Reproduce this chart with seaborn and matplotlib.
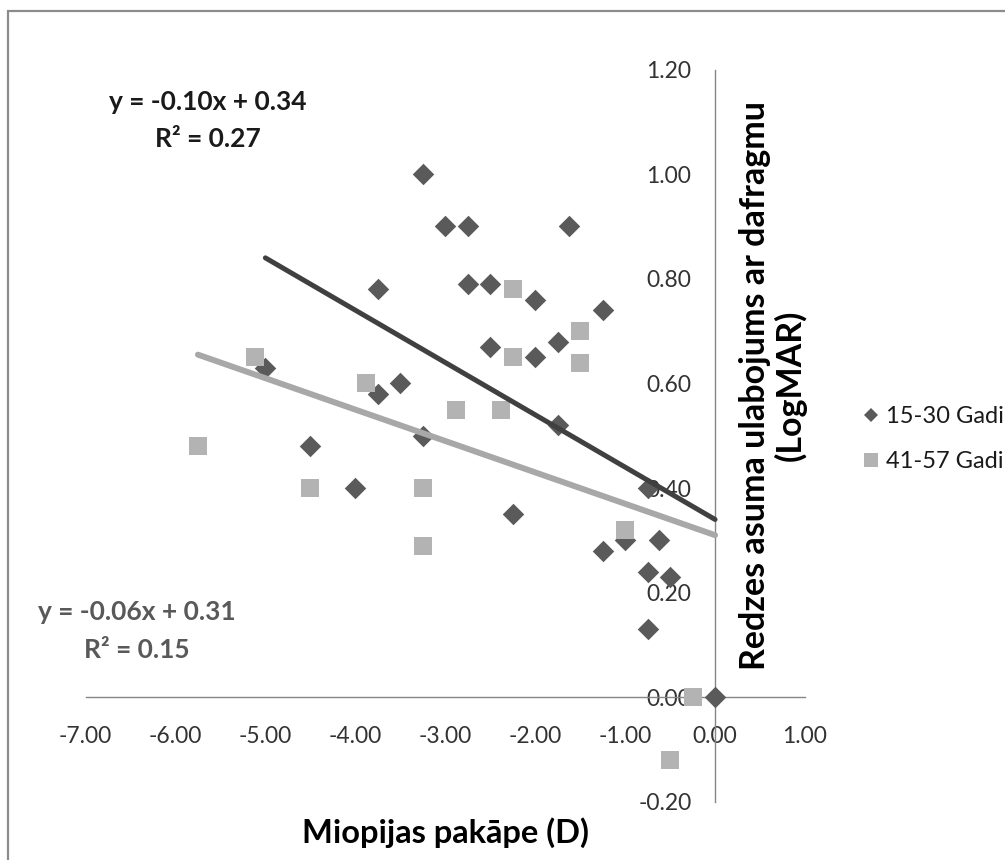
import numpy as np
import pandas as pd
import matplotlib
matplotlib.use("Agg")
import matplotlib.pyplot as plt
import seaborn as sns
from matplotlib.lines import Line2D
from matplotlib.patches import Rectangle

# ---- data ----
young_x = [-3.25, -3.0, -2.75, -1.62, -3.75, -2.75, -2.5, -2.0, -1.25, -2.5,
           -2.0, -1.75, -5.0, -3.75, -3.5, -4.5, -4.0, -3.25, -1.75, -2.25,
           -0.75, -1.25, -1.0, -0.62, -0.75, -0.5, -0.75, 0.0]
young_y = [1.00, 0.90, 0.90, 0.90, 0.78, 0.79, 0.79, 0.76, 0.74, 0.67,
           0.65, 0.68, 0.63, 0.58, 0.60, 0.48, 0.40, 0.50, 0.52, 0.35,
           0.40, 0.28, 0.30, 0.30, 0.24, 0.23, 0.13, 0.00]
old_x = [-5.75, -5.12, -4.5, -3.88, -3.25, -3.25, -2.88, -2.38, -2.25, -2.25,
         -1.5, -1.5, -1.0, -0.25, -0.5]
old_y = [0.48, 0.65, 0.40, 0.60, 0.40, 0.29, 0.55, 0.55, 0.78, 0.65,
         0.70, 0.64, 0.32, 0.00, -0.12]

series_names = ["15-30 Gadi", "41-57 Gadi"]
trend_slope = [-0.10, -0.06]
trend_intercept = [0.34, 0.31]
trend_r2 = [0.27, 0.15]
trend_xmin = [-5.0, -5.75]
trend_xmax = [0.0, 0.0]

x_ticks = [-7, -6, -5, -4, -3, -2, -1, 0, 1]
y_ticks = [-0.2, 0.0, 0.2, 0.4, 0.6, 0.8, 1.0, 1.2]
x_label = "Miopijas pakāpe (D)"
y_label = "Redzes asuma ulabojums ar dafragmu\n(LogMAR)"

# ---- style ----
sns.set_style("white")
plt.rcParams['font.family'] = ['Lato', 'DejaVu Sans']

W, H = 1005, 860
fig = plt.figure(figsize=(W / 100, H / 100), dpi=100)
def fx(px):
    return px / W
def fy(py):
    return 1 - py / H

ax = fig.add_axes([fx(85.5), fy(802), fx(805) - fx(85.5), fy(69.5) - fy(802)])

dark_marker = "#5a5a5a"
light_marker = "#b3b3b3"
dark_line = "#404040"
light_line = "#a8a8a8"

sns.scatterplot(x=young_x, y=young_y, marker='D', s=120, color=dark_marker,
                linewidth=0, ax=ax, zorder=3, legend=False)
sns.scatterplot(x=old_x, y=old_y, marker='s', s=160, color=light_marker,
                linewidth=0, ax=ax, zorder=4, legend=False)

line_colors = [dark_line, light_line]
line_widths = [3.6, 4.3]
for i in range(2):
    xs = np.array([trend_xmin[i], trend_xmax[i]])
    df = pd.DataFrame({"x": xs, "y": trend_slope[i] * xs + trend_intercept[i]})
    sns.lineplot(data=df, x="x", y="y", color=line_colors[i], linewidth=line_widths[i],
                 ax=ax, zorder=5, solid_capstyle='round')

ax.set_xlim(-7, 1)
ax.set_ylim(-0.2, 1.2)
ax.set_xticks(x_ticks)
ax.set_xticklabels([f"{v:.2f}" for v in x_ticks])
ax.set_yticks(y_ticks)
ax.set_yticklabels([f"{v:.2f}" for v in y_ticks])
ax.set_xlabel("")
ax.set_ylabel("")

spine_col = "#868686"
for s in ["top", "right"]:
    ax.spines[s].set_visible(False)
ax.spines["left"].set_position(("data", 0))
ax.spines["bottom"].set_position(("data", 0))
for s in ["left", "bottom"]:
    ax.spines[s].set_color(spine_col)
    ax.spines[s].set_linewidth(1.0)
    ax.spines[s].set_zorder(2)
ax.patch.set_alpha(0)

ax.tick_params(axis='x', direction='out', length=6.5, width=1, color=spine_col,
               pad=14, labelsize=16.5, labelcolor="#333333")
ax.tick_params(axis='y', direction='out', length=6, width=1, color=spine_col,
               pad=11, labelsize=16.5, labelcolor="#333333")

# axis titles
fig.text(fx(773), fy(385), y_label, rotation=90, ha='center', va='center',
         multialignment='center', fontsize=24.5, fontweight='bold', color='black',
         linespacing=1.1)
fig.text(fx(445), fy(833), x_label, ha='center', va='center', fontsize=23.5,
         fontweight='bold', color='black')

# trendline equations
eq_colors = ["#1a1a1a", "#595959"]
eq_pos = [(208, 102, 139), (137, 612, 650)]
for i in range(2):
    cx, y1, y2 = eq_pos[i]
    fig.text(fx(cx), fy(y1), f"y = {trend_slope[i]:.2f}x + {trend_intercept[i]:.2f}",
             ha='center', va='center', fontsize=19, fontweight='bold', color=eq_colors[i])
    fig.text(fx(cx), fy(y2), f"R² = {trend_r2[i]:.2f}",
             ha='center', va='center', fontsize=19, fontweight='bold', color=eq_colors[i])

# legend
handles = [Line2D([], [], marker='D', linestyle='none', markersize=7.5,
                  markerfacecolor=dark_marker, markeredgewidth=0),
           Line2D([], [], marker='s', linestyle='none', markersize=10.5,
                  markerfacecolor=light_marker, markeredgewidth=0)]
fig.legend(handles, series_names, loc='center left',
           bbox_to_anchor=(fx(847), fy(439)), frameon=False, fontsize=17,
           handlelength=0.8, handletextpad=0.25, labelspacing=1.0,
           borderaxespad=0.2, labelcolor="#1a1a1a")

# outer border (left and top visible)
fig.add_artist(Rectangle((fx(8), -0.1), 2, fy(11) + 0.1, transform=fig.transFigure,
                         fill=False, edgecolor="#8c8c8c", linewidth=1.6))

fig.savefig("out.png", dpi=100)
